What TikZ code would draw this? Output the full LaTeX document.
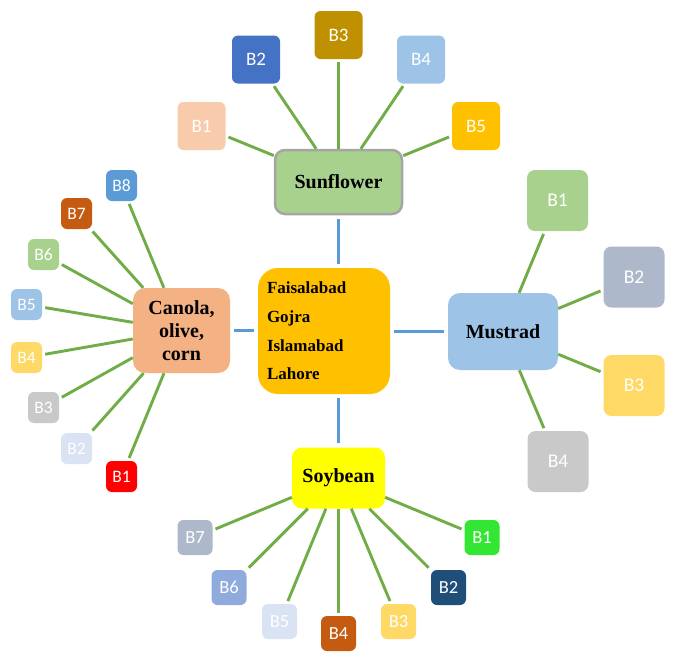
\documentclass[tikz,border=0pt]{standalone}
\usepackage{fontspec}
\newfontfamily\calib{Carlito}
\newfontfamily\serifb{Liberation Serif}
\newcommand\palbold{\serifb\bfseries}
\definecolor{gline}{HTML}{70AD47}
\definecolor{bline}{HTML}{5B9BD5}
\definecolor{cSun}{HTML}{A9D18E}
\definecolor{cSunBd}{HTML}{A5A5A5}
\definecolor{cCen}{HTML}{FFC000}
\definecolor{cCan}{HTML}{F4B183}
\definecolor{cMus}{HTML}{9DC3E6}
\definecolor{cSoy}{HTML}{FFFF00}
\definecolor{cPeach}{HTML}{F8CBAD}
\definecolor{cBlue}{HTML}{4472C4}
\definecolor{cGold}{HTML}{BF9000}
\definecolor{cLBlue}{HTML}{9DC3E6}
\definecolor{cOrange}{HTML}{FFC000}
\definecolor{cMBlue}{HTML}{5B9BD5}
\definecolor{cRust}{HTML}{C55A11}
\definecolor{cLGreen}{HTML}{A9D18E}
\definecolor{cLYellow}{HTML}{FFD966}
\definecolor{cGray}{HTML}{C9C9C9}
\definecolor{cPale}{HTML}{DAE3F3}
\definecolor{cRed}{HTML}{FF0000}
\definecolor{cSlate}{HTML}{ADB9CA}
\definecolor{cPeri}{HTML}{8FAADC}
\definecolor{cNavy}{HTML}{1F4E79}
\definecolor{cGreen}{HTML}{33E633}
\tikzset{
  leaf/.style={fill=#1, rounded corners=6pt, inner sep=0pt, text=white, font=\calib\fontsize{19}{22}\selectfont},
  bigleaf/.style={leaf=#1, minimum width=48pt, minimum height=48pt},
  smallleaf/.style={leaf=#1, minimum width=31pt, minimum height=31pt, font=\calib\fontsize{17.5}{20}\selectfont},
  midleaf/.style={leaf=#1, minimum width=35pt, minimum height=35pt, font=\calib\fontsize{18.5}{21}\selectfont},
  mleaf/.style={leaf=#1, minimum width=61pt, minimum height=61pt, rounded corners=8pt, font=\calib\fontsize{19.5}{22}\selectfont},
  hub/.style={fill=#1, rounded corners=10pt, inner sep=0pt, align=center, font=\palbold\fontsize{20}{23}\selectfont},
  gl/.style={draw=gline, line width=2.9pt, shorten <=3pt},
  bl/.style={draw=bline, line width=2.9pt, shorten <=4pt, shorten >=4pt}
}
\begin{document}
\begin{tikzpicture}[x=1pt,y=-1pt]
\useasboundingbox (0,0) rectangle (677,662);
% hubs
\node[fill=cCen, rounded corners=20pt, minimum width=132pt, minimum height=126pt, inner xsep=9pt, inner ysep=0pt, text width=114pt, align=left, font=\palbold\fontsize{17}{28.7}\selectfont] (cen) at (324,331) {Faisalabad\\Gojra\\Islamabad\\Lahore};
\node[hub=cSun, draw=cSunBd, line width=2.5pt, minimum width=127pt, minimum height=64pt] (sun) at (338.5,182) {Sunflower};
\node[hub=cCan, minimum width=97pt, minimum height=85pt, rounded corners=12pt] (can) at (181.5,330.5) {Canola,\\olive,\\corn};
\node[hub=cMus, minimum width=110pt, minimum height=77pt, rounded corners=12pt] (mus) at (503,331.5) {Mustrad};
\node[hub=cSoy, minimum width=93pt, minimum height=61pt] (soy) at (338.5,478) {Soybean};
% sunflower children
\node[bigleaf=cPeach] (s1) at (201.5,126) {B1};
\node[bigleaf=cBlue] (s2) at (256,59.5) {B2};
\node[bigleaf=cGold] (s3) at (338.5,35) {B3};
\node[bigleaf=cLBlue] (s4) at (421,59.5) {B4};
\node[bigleaf=cOrange] (s5) at (476,126) {B5};
% canola children
\node[smallleaf=cMBlue] (c8) at (121.5,185.5) {B8};
\node[smallleaf=cRust] (c7) at (76.5,213.5) {B7};
\node[smallleaf=cLGreen] (c6) at (43.5,254.5) {B6};
\node[smallleaf=cLBlue] (c5) at (26.5,304.5) {B5};
\node[smallleaf=cLYellow] (c4) at (26.5,357.5) {B4};
\node[smallleaf=cGray] (c3) at (43.5,407.5) {B3};
\node[smallleaf=cPale] (c2) at (76.5,448.5) {B2};
\node[smallleaf=cRed] (c1) at (121.5,476.5) {B1};
% mustrad children
\node[mleaf=cLGreen] (m1) at (557.5,200.5) {B1};
\node[mleaf=cSlate] (m2) at (634,277) {B2};
\node[mleaf=cLYellow] (m3) at (634,385.5) {B3};
\node[mleaf=cGray] (m4) at (558,461.5) {B4};
% soybean children
\node[midleaf=cSlate] (y7) at (195,537.5) {B7};
\node[midleaf=cPeri] (y6) at (229,587.5) {B6};
\node[midleaf=cPale] (y5) at (279.5,621.5) {B5};
\node[midleaf=cRust] (y4) at (338.5,633.5) {B4};
\node[midleaf=cLYellow] (y3) at (398.5,621.5) {B3};
\node[midleaf=cNavy] (y2) at (448.5,587.5) {B2};
\node[midleaf=cGreen] (y1) at (482,537.5) {B1};
% connectors
\foreach \c in {s1,s2,s3,s4,s5} \draw[gl] (\c) -- (sun);
\foreach \c in {c1,c2,c3,c4,c5,c6,c7,c8} \draw[gl] (\c) -- (can);
\foreach \c in {m1,m2,m3,m4} \draw[gl] (\c) -- (mus);
\foreach \c in {y1,y2,y3,y4,y5,y6,y7} \draw[gl] (\c) -- (soy);
\draw[bl] (sun.south) -- (sun.south |- cen.north);
\draw[bl] (soy.north) -- (soy.north |- cen.south);
\draw[bl] (can.east) -- (can.east -| cen.west);
\draw[bl] (mus.west) -- (mus.west -| cen.east);
\end{tikzpicture}
\end{document}
